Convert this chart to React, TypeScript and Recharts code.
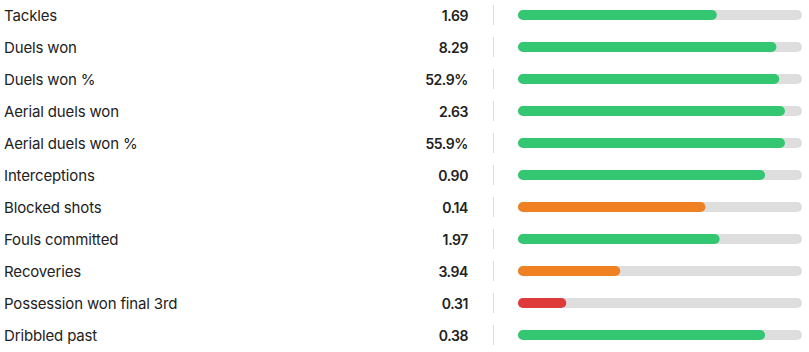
import { BarChart, Bar, XAxis, YAxis, Cell } from 'recharts';

const stats = [
  'Tackles',
  'Duels won',
  'Duels won %',
  'Aerial duels won',
  'Aerial duels won %',
  'Interceptions',
  'Blocked shots',
  'Fouls committed',
  'Recoveries',
  'Possession won final 3rd',
  'Dribbled past',
];
const values = ['1.69', '8.29', '52.9%', '2.63', '55.9%', '0.90', '0.14', '1.97', '3.94', '0.31', '0.38'];
// percentile fill of each bar (0-100)
const percentiles = [70, 91, 92, 94, 94, 87, 66, 71, 36, 17, 87];
const colors = ['green', 'green', 'green', 'green', 'green', 'green', 'orange', 'green', 'orange', 'red', 'green'];

const palette: Record<string, string> = {
  green: '#33c771',
  orange: '#f08122',
  red: '#df3a3a',
};

const data = stats.map((name, i) => ({ name, value: values[i], pct: percentiles[i], color: colors[i] }));

const FONT = 'Inter, "Noto Sans", sans-serif';

// label on the left, value right-aligned, then a thin separator
function StatTick(props: any) {
  const { y, payload } = props;
  const i = stats.indexOf(payload.value);
  return (
    <g>
      <text x={4} y={y} dy={6} fontSize={15} letterSpacing={-0.15} fontFamily={FONT} fill="#222">
        {payload.value}
      </text>
      <text
        x={468}
        y={y}
        dy={6}
        fontSize={14}
        fontWeight={600}
        letterSpacing={-0.4}
        fontFamily={FONT}
        fill="#222"
        textAnchor="end"
      >
        {values[i]}
      </text>
      <line x1={493.5} x2={493.5} y1={y - 10} y2={y + 10} stroke="#dcdcdc" strokeWidth={1} />
    </g>
  );
}

export default function App() {
  return (
    <div style={{ position: 'absolute', left: 0, top: 0, width: 809, height: 352, background: '#fff' }}>
      <BarChart
        width={809}
        height={352}
        data={data}
        layout="vertical"
        margin={{ top: -1, right: 7, left: 0, bottom: 1 }}
      >
        <XAxis type="number" domain={[0, 100]} hide />
        <YAxis
          type="category"
          dataKey="name"
          width={518}
          axisLine={false}
          tickLine={false}
          tick={<StatTick />}
          interval={0}
        />
        <Bar
          dataKey="pct"
          barSize={10}
          radius={5}
          background={{ fill: '#dedede', radius: 5 }}
          isAnimationActive={false}
        >
          {data.map((d) => (
            <Cell key={d.name} fill={palette[d.color]} />
          ))}
        </Bar>
      </BarChart>
    </div>
  );
}
